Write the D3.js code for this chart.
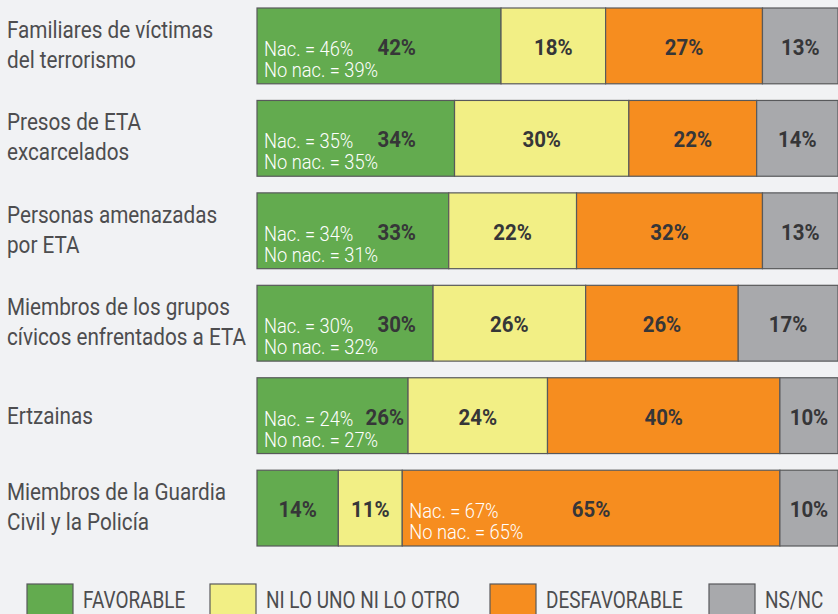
<!DOCTYPE html>
<html>
<head>
<meta charset="utf-8">
<script src="https://cdn.jsdelivr.net/npm/d3@7"></script>
<style>
  html, body { margin: 0; padding: 0; background: #f1f2f4; }
  svg { display: block; }
  text { font-family: Roboto, "Liberation Sans", sans-serif; }
</style>
</head>
<body>
<div id="chart"></div>
<script>
// Categories (one or two lines each)
const categories = [
  ['Familiares de víctimas', 'del terrorismo'],
  ['Presos de ETA', 'excarcelados'],
  ['Personas amenazadas', 'por ETA'],
  ['Miembros de los grupos', 'cívicos enfrentados a ETA'],
  ['Ertzainas'],
  ['Miembros de la Guardia', 'Civil y la Policía']
];

const seriesNames = ['FAVORABLE', 'NI LO UNO NI LO OTRO', 'DESFAVORABLE', 'NS/NC'];
const seriesColors = ['#63ab4f', '#f2ef85', '#f68d1f', '#a8a9ac'];

const favorable = [42, 34, 33, 30, 26, 14];
const neutral = [18, 30, 22, 26, 24, 11];
const unfavorable = [27, 22, 32, 26, 40, 65];
const nsnc = [13, 14, 13, 17, 10, 10];

// Breakdown nationalist / non-nationalist, and the segment it is shown in
const nacValues = [46, 35, 34, 30, 24, 67];
const noNacValues = [39, 35, 31, 32, 27, 65];
const breakdownSegment = [0, 0, 0, 0, 0, 2];

const width = 838, height = 614;
const svg = d3.select('#chart').append('svg')
  .attr('width', width)
  .attr('height', height);

// condensed text: position at anchor, then squeeze horizontally
// lines: array of strings, lineGap: distance between baselines
function label(parent, px, py, lines, opt) {
  const t = parent.append('text')
    .attr('transform', `translate(${px},${py}) scale(${opt.sx || 1},1)`)
    .attr('text-anchor', opt.anchor || 'start')
    .attr('fill', opt.fill || '#4d4d4f')
    .style('font-size', opt.size + 'px')
    .style('font-weight', opt.weight || 400);
  [].concat(lines).forEach((ln, j) => {
    t.append('tspan').attr('x', 0).attr('y', j * (opt.gap || 0)).text(ln);
  });
  return t;
}

const x = d3.scaleLinear().domain([0, 100]).range([257, 838]);
const y = d3.scaleBand()
  .domain(d3.range(categories.length))
  .range([8, 546])
  .paddingInner(0.18)
  .paddingOuter(0);

const rows = categories.map((c, i) => {
  const vals = [favorable[i], neutral[i], unfavorable[i], nsnc[i]];
  const total = d3.sum(vals);
  let acc = 0;
  const segs = vals.map((v, k) => {
    const s = { row: i, k, v, x0: acc * 100 / total, x1: (acc + v) * 100 / total };
    acc += v;
    return s;
  });
  return { label: c, segs };
});

// Category labels
rows.forEach((r, i) => {
  const cy = y(i) + y.bandwidth() / 2;
  const off = r.label.length === 1 ? 8 : -8;
  label(svg, 7, cy + off, r.label, { size: 23, sx: 0.9, gap: 30 });
});

// Bars
rows.forEach((r, i) => {
  const top = y(i);
  const cy = top + y.bandwidth() / 2;
  const g = svg.append('g');

  g.selectAll('rect')
    .data(r.segs)
    .enter().append('rect')
    .attr('x', d => x(d.x0))
    .attr('y', top)
    .attr('width', d => x(d.x1) - x(d.x0))
    .attr('height', y.bandwidth())
    .attr('fill', d => seriesColors[d.k])
    .attr('stroke', '#58595b')
    .attr('stroke-width', 1.2);

  r.segs.forEach(d => {
    const hasBreak = breakdownSegment[i] === d.k;
    const sx0 = x(d.x0), sx1 = x(d.x1);
    if (hasBreak) {
      label(g, sx0 + 7, cy + 10,
        [`Nac. = ${nacValues[i]}%`, `No nac. = ${noNacValues[i]}%`],
        { size: 21, sx: 0.87, weight: 300, fill: '#fff', gap: 21 });
    }
    const vo = { size: 22, sx: 0.93, weight: 700, fill: '#363638' };
    if (hasBreak && d.k === 0) {
      label(g, Math.min(sx0 + 159, sx1 - 4), cy + 9, d.v + '%', { ...vo, anchor: 'end' });
    } else {
      label(g, (sx0 + Math.min(sx1, width)) / 2, cy + 9, d.v + '%', { ...vo, anchor: 'middle' });
    }
  });
});

// Legend
const legendX = [27, 210, 490, 709];
const legend = svg.append('g');
seriesNames.forEach((name, k) => {
  legend.append('rect')
    .attr('x', legendX[k])
    .attr('y', 584)
    .attr('width', 46)
    .attr('height', 36)
    .attr('fill', seriesColors[k])
    .attr('stroke', '#58595b')
    .attr('stroke-width', 1.2);
  label(legend, legendX[k] + 56, 608, name, { size: 24, sx: 0.79 });
});
</script>
</body>
</html>
